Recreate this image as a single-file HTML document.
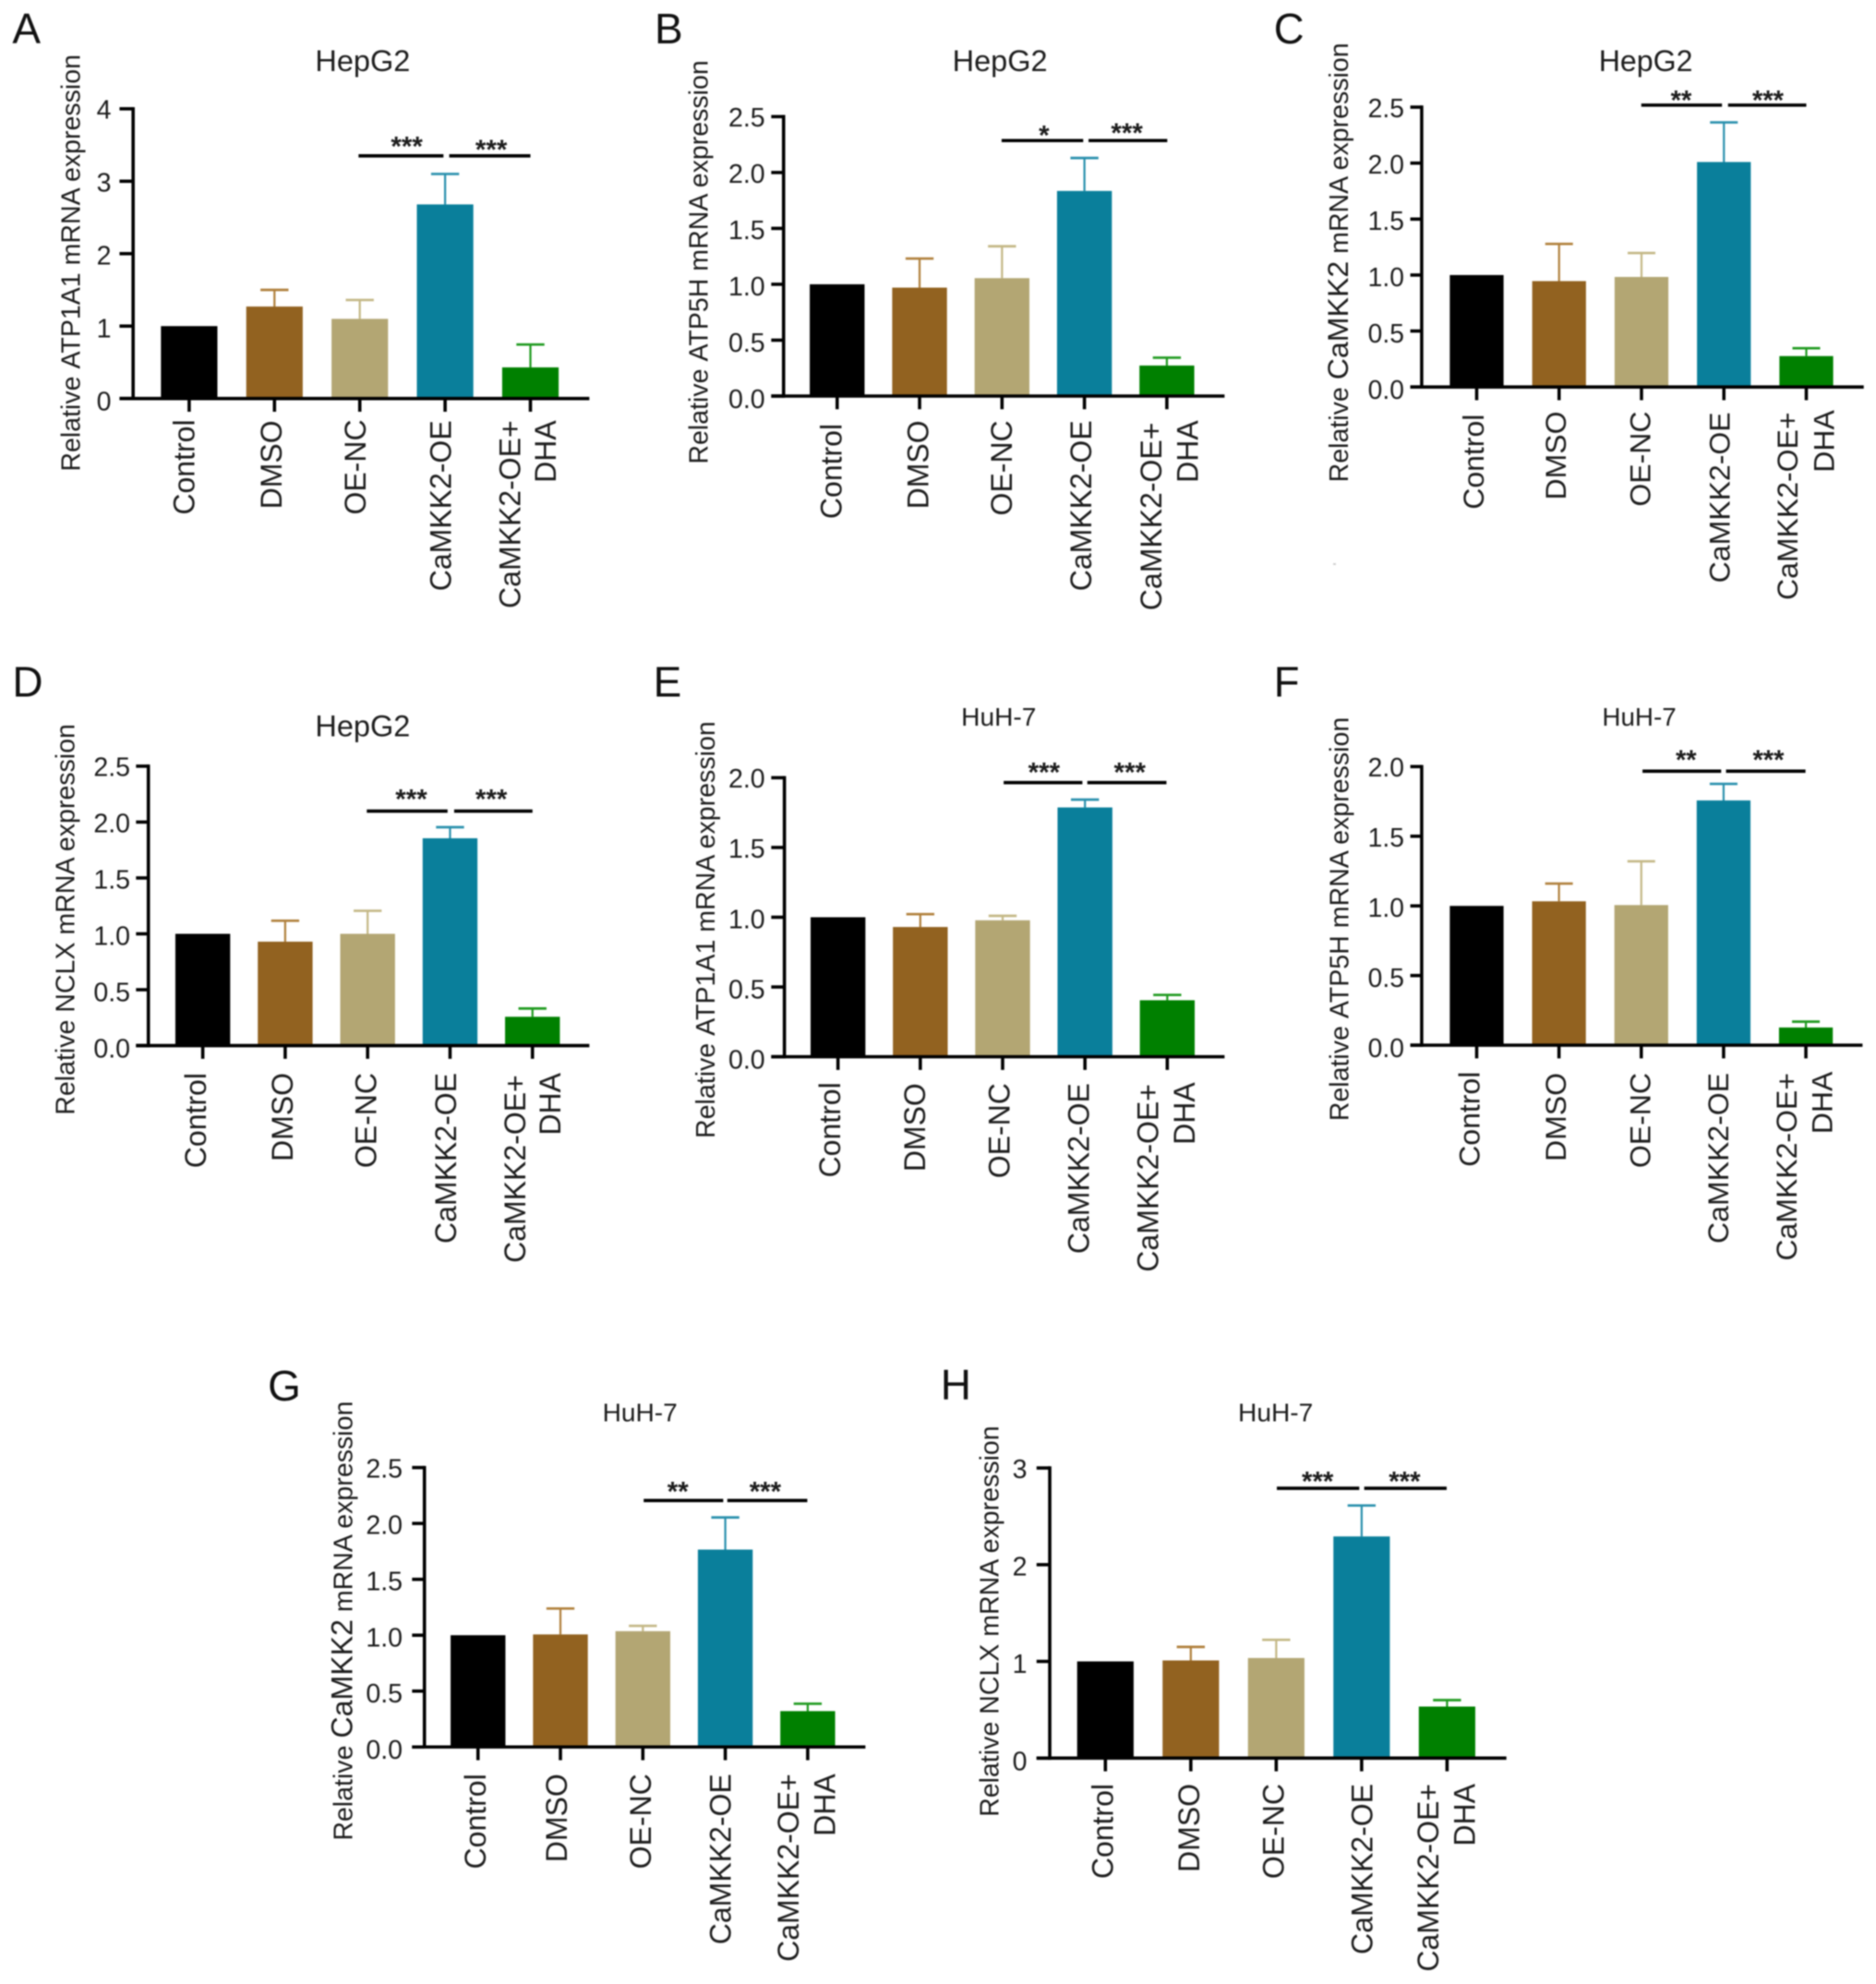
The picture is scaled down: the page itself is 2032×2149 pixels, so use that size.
<!DOCTYPE html>
<html lang="en">
<head>
<meta charset="utf-8">
<title>Relative mRNA expression in HepG2 and HuH-7 cells</title>
<style>
html,body{margin:0;padding:0;background:#fff;}
#figure{display:block;width:2032px;height:2149px;filter:blur(0.8px);}
text{font-family:"Liberation Sans",Arial,sans-serif;fill:#1c1c1c;}
</style>
</head>
<body>
<svg id="figure" xmlns="http://www.w3.org/2000/svg" width="2032" height="2149" viewBox="0 0 2032 2149">
<rect x="1444" y="610" width="3" height="2" fill="#cfcfcf"></rect>
</svg>
<script>
// Shared category labels and colours
const categories = ['Control', 'DMSO', 'OE-NC', 'CaMKK2-OE', 'CaMKK2-OE+ DHA'];

// Panel A
const ticksA = ['0', '1', '2', '3', '4'];
const valuesA = [1, 1.27, 1.10, 2.68, 0.43];
const upperA = [1, 1.50, 1.36, 3.10, 0.745];
const sigLevelA = [3.35];
const sigLabelsA = ['***', '***'];

// Panel B
const ticksB = ['0.0', '0.5', '1.0', '1.5', '2.0', '2.5'];
const valuesB = [1, 0.97, 1.055, 1.835, 0.273];
const upperB = [1, 1.23, 1.34, 2.13, 0.343];
const sigLevelB = [2.286];
const sigLabelsB = ['*', '***'];

// Panel C
const ticksC = ['0.0', '0.5', '1.0', '1.5', '2.0', '2.5'];
const valuesC = [1, 0.946, 0.983, 2.01, 0.276];
const upperC = [1, 1.278, 1.197, 2.364, 0.346];
const sigLevelC = [2.518];
const sigLabelsC = ['**', '***'];

// Panel D
const ticksD = ['0.0', '0.5', '1.0', '1.5', '2.0', '2.5'];
const valuesD = [1, 0.93, 1.0, 1.855, 0.258];
const upperD = [1, 1.117, 1.206, 1.954, 0.332];
const sigLevelD = [2.098];
const sigLabelsD = ['***', '***'];

// Panel E
const ticksE = ['0.0', '0.5', '1.0', '1.5', '2.0'];
const valuesE = [1, 0.93, 0.978, 1.787, 0.405];
const upperE = [1, 1.022, 1.01, 1.843, 0.443];
const sigLevelE = [1.965];
const sigLabelsE = ['***', '***'];

// Panel F
const ticksF = ['0.0', '0.5', '1.0', '1.5', '2.0'];
const valuesF = [1, 1.033, 1.006, 1.757, 0.127];
const upperF = [1, 1.16, 1.32, 1.876, 0.169];
const sigLevelF = [1.967];
const sigLabelsF = ['**', '***'];

// Panel G
const ticksG = ['0.0', '0.5', '1.0', '1.5', '2.0', '2.5'];
const valuesG = [1, 1.007, 1.036, 1.766, 0.321];
const upperG = [1, 1.239, 1.084, 2.054, 0.387];
const sigLevelG = [2.205];
const sigLabelsG = ['**', '***'];

// Panel H
const ticksH = ['0', '1', '2', '3'];
const valuesH = [1, 1.01, 1.035, 2.292, 0.533];
const upperH = [1, 1.15, 1.223, 2.612, 0.60];
const sigLevelH = [2.79];
const sigLabelsH = ['***', '***'];

const barColors = ['#000000', '#926220', '#b3a673', '#0a7f9b', '#008000'];
const errColors = ['#000000', '#b0803c', '#c4b886', '#2a90ad', '#1f9a1f'];

// Geometry is authored in scaled local units of each panel group
const SCALE = 0.4464;
const panels = [
  {key:'a', letter:'A', ox:0, oy:0, sx:SCALE, ticks:ticksA, values:valuesA, upper:upperA, sig:sigLevelA, sigLabels:sigLabelsA,
   title:'HepG2', gene:'ATP1A1', axisX:323, y0:967, yTop:264, tickLeft:290, xEnd:1430, c0:459, step:207, barW:137,
   sigSpans:[[870,1076],[1090,1287]], starX:[987,1192], starY:[345,352], titleX:880, titleY:172, labelX:194, labelY:638,
   tickR:270, letterX:30, letterY:105, dx:[13,17,14,14,-25,62], tops:[1018,1020,1018,1020,1020,1020]},
  {key:'b', letter:'B', ox:680, oy:0, sx:SCALE, ticks:ticksB, values:valuesB, upper:upperB, sig:sigLevelB, sigLabels:sigLabelsB,
   title:'HepG2', gene:'ATP5H', axisX:378, y0:961, yTop:283, tickLeft:348, xEnd:1448, c0:508, step:200, barW:133,
   sigSpans:[[907,1105],[1118,1309]], starX:[1010,1211], starY:[318,312], titleX:903, titleY:172, labelX:194, labelY:636,
   tickR:333, letterX:65, letterY:105, dx:[11,21,24,17,-13,75], tops:[1028,1020,1020,1020,1025,1020]},
  {key:'c', letter:'C', ox:1340, oy:0, sx:0.4413, ticks:ticksC, values:valuesC, upper:upperC, sig:sigLevelC, sigLabels:sigLabelsC,
   title:'HepG2', gene:'CaMKK2', axisX:453, y0:939, yTop:260, tickLeft:425, xEnd:1538, c0:588, step:202.25, barW:132,
   sigSpans:[[992,1190],[1205,1397]], starX:[1090,1303], starY:[232,232], titleX:1003, titleY:172, labelX:272, labelY:637,
   tickR:410, letterX:90, letterY:105, dx:[17,17,22,14,-21,68], tops:[1005,998,998,1000,1000,995]},
  {key:'d', letter:'D', ox:0, oy:700, sx:SCALE, ticks:ticksD, values:valuesD, upper:upperD, sig:sigLevelD, sigLabels:sigLabelsD,
   title:'HepG2', gene:'NCLX', axisX:360, y0:969, yTop:291, tickLeft:330, xEnd:1430, c0:492, step:200, barW:133,
   sigSpans:[[890,1086],[1102,1292]], starX:[998,1192], starY:[360,360], titleX:880, titleY:218, labelX:180, labelY:663,
   tickR:316, letterX:30, letterY:122, dx:[8,18,21,15,-17,68], tops:[1035,1035,1035,1035,1040,1035]},
  {key:'e', letter:'E', ox:680, oy:700, sx:SCALE, ticks:ticksE, values:valuesE, upper:upperE, sig:sigLevelE, sigLabels:sigLabelsE,
   title:'HuH-7', gene:'ATP1A1', axisX:380, y0:996, yTop:319, tickLeft:348, xEnd:1448, c0:510, step:199.75, barW:133,
   sigSpans:[[912,1103],[1115,1307]], starX:[1010,1218], starY:[295,295], titleX:900, titleY:193, labelX:211, labelY:688,
   tickR:333, letterX:62, letterY:122, dx:[5,12,17,10,-22,66], tops:[1058,1060,1060,1060,1062,1058]},
  {key:'f', letter:'F', ox:1340, oy:700, sx:0.4413, ticks:ticksF, values:valuesF, upper:upperF, sig:sigLevelF, sigLabels:sigLabelsF,
   title:'HuH-7', gene:'ATP5H', axisX:453, y0:968, yTop:292, tickLeft:425, xEnd:1535, c0:588, step:202, barW:132,
   sigSpans:[[995,1188],[1200,1395]], starX:[1102,1304], starY:[265,265], titleX:987, titleY:193, labelX:273, labelY:662,
   tickR:410, letterX:90, letterY:122, dx:[7,17,22,12,-23,65], tops:[1032,1035,1035,1035,1035,1032]},
  {key:'g', letter:'G', ox:270, oy:1449, sx:SCALE, ticks:ticksG, values:valuesG, upper:upperG, sig:sigLevelG, sigLabels:sigLabelsG,
   title:'HuH-7', gene:'CaMKK2', axisX:425, y0:993, yTop:315, tickLeft:395, xEnd:1495, c0:555, step:200, barW:133,
   sigSpans:[[957,1150],[1160,1354]], starX:[1040,1252], starY:[362,362], titleX:948, titleY:203, labelX:250, labelY:687,
   tickR:372, letterX:45, letterY:152, dx:[19,16,19,13,-22,66], tops:[1058,1058,1058,1058,1058,1058]},
  {key:'h', letter:'H', ox:1000, oy:1449, sx:SCALE, ticks:ticksH, values:valuesH, upper:upperH, sig:sigLevelH, sigLabels:sigLabelsH,
   title:'HuH-7', gene:'NCLX', axisX:307, y0:1020, yTop:316, tickLeft:275, xEnd:1415, c0:442, step:207.25, barW:137,
   sigSpans:[[858,1058],[1070,1270]], starX:[957,1168], starY:[338,338], titleX:855, titleY:203, labelX:183, labelY:688,
   tickR:252, letterX:42, letterY:150, dx:[18,21,18,26,-21,67], tops:[1082,1082,1082,1082,1082,1082]}
];

const NS = 'http://www.w3.org/2000/svg';
const svg = document.getElementById('figure');

function make(tag, attrs, parent, content) {
  const node = document.createElementNS(NS, tag);
  for (const k in attrs) node.setAttribute(k, attrs[k]);
  if (content !== undefined) node.textContent = content;
  parent.appendChild(node);
  return node;
}

panels.forEach(function (p) {
  const g = make('g', {transform: 'translate(' + p.ox + ',' + p.oy + ') scale(' + p.sx + ',' + SCALE + ')'}, svg);
  
  

  const yMax = parseFloat(p.ticks[p.ticks.length - 1]);
  const yScale = function (v) { return p.y0 - (v / yMax) * (p.y0 - p.yTop); };
  const xScale = function (i) { return p.c0 + i * p.step; };

  const letter = make('text', {x: p.letterX, y: p.letterY, 'font-size': 103, style: 'fill:#111'}, g, p.letter);
  
  

  const title = make('text', {x: p.titleX, y: p.titleY, 'text-anchor': 'middle', 'font-size': p.title === 'HepG2' ? 72.8 : 63}, g, p.title);
  
  

  const yTitle = make('text', {x: p.labelX, y: p.labelY, 'text-anchor': 'middle', 'font-size': 64,
    transform: 'rotate(-90 ' + p.labelX + ' ' + p.labelY + ')'}, g);
  
  
  make('tspan', {}, yTitle, 'Relative ');
  make('tspan', {'font-size': p.gene === 'CaMKK2' ? 72 : 64}, yTitle, p.gene);
  make('tspan', {}, yTitle, ' mRNA expression');

  // bars and error bars
  p.values.forEach(function (v, i) {
    const cx = xScale(i);
    const top = yScale(v);
    const tip = yScale(p.upper[i]);
    if (p.upper[i] > v) {
      const stem = make('line', {x1: cx, x2: cx, y1: top, y2: tip, stroke: errColors[i], 'stroke-width': 5}, g);
      
      
      const cap = make('line', {x1: cx - 34, x2: cx + 34, y1: tip, y2: tip, stroke: errColors[i], 'stroke-width': 6}, g);
      
      
    }
    const bar = make('rect', {x: cx - p.barW / 2, y: top, width: p.barW, height: p.y0 - top, fill: barColors[i]}, g);
    
    
  });

  // axes
  const yAxis = make('line', {x1: p.axisX, x2: p.axisX, y1: p.yTop - 4, y2: p.y0 + 4, stroke: '#000', 'stroke-width': 8}, g);
  
  
  const xAxis = make('line', {x1: p.tickLeft, x2: p.xEnd, y1: p.y0, y2: p.y0, stroke: '#000', 'stroke-width': 8}, g);
  
  

  p.ticks.forEach(function (t) {
    const value = parseFloat(t);
    const ty = yScale(value);
    const mark = make('line', {x1: p.tickLeft, x2: p.axisX, y1: ty, y2: ty, stroke: '#000', 'stroke-width': 8}, g);
    
    
    const drift = 2 + 5 * (1 - value / yMax);
    const lab = make('text', {x: p.tickR, y: ty + 22 + drift, 'text-anchor': 'end', 'font-size': 64}, g, t);
    
    
  });

  categories.forEach(function (name, i) {
    const cx = xScale(i);
    const mark = make('line', {x1: cx, x2: cx, y1: p.y0, y2: p.y0 + 32, stroke: '#000', 'stroke-width': 8}, g);
    
    
    const lines = name === 'CaMKK2-OE+ DHA' ? ['CaMKK2-OE+', 'DHA'] : [name];
    lines.forEach(function (line, j) {
      const bx = cx + p.dx[i + j];
      const by = p.tops[i + j];
      const lab = make('text', {x: bx, y: by, 'text-anchor': 'end', 'font-size': 71.7,
        transform: 'rotate(-90 ' + bx + ' ' + by + ')'}, g, line);
      
      
    });
  });

  // significance bars
  const sy = yScale(p.sig[0]);
  p.sigSpans.forEach(function (span, i) {
    const line = make('line', {x1: span[0], x2: span[1], y1: sy, y2: sy, stroke: '#000', 'stroke-width': 8}, g);
    
    
    const star = make('text', {x: p.starX[i], y: p.starY[i] + 33, 'text-anchor': 'middle', 'font-size': 66, 'font-weight': 'bold'}, g, p.sigLabels[i]);
    
    
  });
});
</script>
</body>
</html>
